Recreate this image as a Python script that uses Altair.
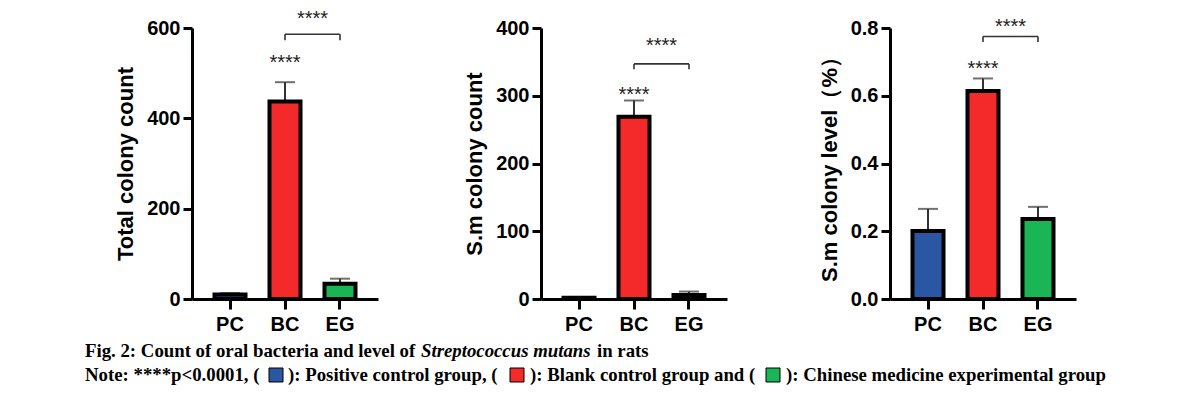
import altair as alt
import pandas as pd

groups = ["PC", "BC", "EG"]
colors = ["#2a56a3", "#f42a2a", "#1ab554"]

total_mean = [10, 437, 34]
total_upper = [13, 480, 45]
sm_mean = [2, 269, 6]
sm_upper = [3, 293, 11]
level_mean = [0.201, 0.614, 0.236]
level_upper = [0.266, 0.651, 0.272]

panel_titles = ["Total colony count", "S.m colony count", "S.m colony level（%）"]
y_domains = [[0, 600], [0, 400], [0, 0.8]]
y_ticks = [[0, 200, 400, 600], [0, 100, 200, 300, 400], [0, 0.2, 0.4, 0.6, 0.8]]
y_formats = ["d", "d", ".1f"]
star_bc_y = [510, 292, 0.662]
star_top_y = [606, 365, 0.785]
bracket_y = [586, 347, 0.775]
bracket_drop_y = [573, 339, 0.759]
sig_label = "****"

caption_line1 = [
    ("Fig. 2: Count of oral bacteria and level of ", "normal"),
    ("Streptococcus mutans", "italic"),
    (" in rats", "normal"),
]
caption_line2 = [
    "Note: ****p<0.0001, (",
    "): Positive control group, (",
    "): Blank control group and (",
    "): Chinese medicine experimental group",
]

FONT = "Liberation Sans"
SERIF = "Liberation Serif"
CAP_SIZE = 18.8
W, H = 186, 271


def x_enc(field="group:N"):
    return alt.X(
        field,
        sort=groups,
        scale=alt.Scale(domain=groups, paddingInner=0.436, paddingOuter=0.409),
        axis=alt.Axis(
            title=None, labelAngle=0, domainWidth=3, domainColor="black",
            tickWidth=3, tickSize=10, tickColor="black", labelFontSize=20,
            labelFont=FONT, labelFontWeight="bold", labelColor="black",
            labelPadding=5, grid=False,
        ),
    )


def y_enc(i, field):
    return alt.Y(
        field,
        title=panel_titles[i],
        scale=alt.Scale(domain=y_domains[i], nice=False, zero=True),
        axis=alt.Axis(
            values=y_ticks[i], format=y_formats[i], domainWidth=3,
            domainColor="black", tickWidth=3, tickSize=9, tickColor="black",
            labelFontSize=20, labelFont=FONT, labelFontWeight="bold",
            labelColor="black", labelPadding=3, titleFontSize=22,
            titleFont=FONT, titleFontWeight="bold", titleColor="black",
            titlePadding=9, grid=False,
        ),
    )


def panel(i, mean, upper, caption=False):
    df = pd.DataFrame({"group": groups, "mean": mean, "upper": upper})
    base = alt.Chart(df)
    err = base.mark_rule(color="#333", strokeWidth=2).encode(
        x=x_enc(), y=y_enc(i, "mean:Q"), y2="upper:Q")
    cap = base.mark_tick(color="#333", thickness=2, size=20).encode(
        x=x_enc(), y=y_enc(i, "upper:Q"))
    bars = base.mark_bar(stroke="black", strokeWidth=4).encode(
        x=x_enc(), y=y_enc(i, "mean:Q"),
        color=alt.Color("group:N", scale=alt.Scale(domain=groups, range=colors), legend=None),
    )
    sig_df = pd.DataFrame({"group": ["BC"], "y": [star_bc_y[i]], "ytop": [star_top_y[i]]})
    star1 = alt.Chart(sig_df).mark_text(
        text=sig_label, fontSize=20, font=FONT, color="#222", baseline="alphabetic"
    ).encode(x=x_enc(), y=y_enc(i, "y:Q"))
    star2 = alt.Chart(sig_df).mark_text(
        text=sig_label, fontSize=20, font=FONT, color="#222", baseline="alphabetic", dx=27.5
    ).encode(x=x_enc(), y=y_enc(i, "ytop:Q"))
    br_df = pd.DataFrame({"x1": ["BC"], "x2": ["EG"], "y": [bracket_y[i]]})
    bracket = alt.Chart(br_df).mark_rule(color="#333", strokeWidth=1.6).encode(
        x=x_enc("x1:N"), x2="x2:N", y=y_enc(i, "y:Q"))
    end_df = pd.DataFrame({"group": ["BC", "EG"], "y": [bracket_y[i]] * 2,
                           "y2": [bracket_drop_y[i]] * 2})
    ends = alt.Chart(end_df).mark_rule(color="#333", strokeWidth=1.6).encode(
        x=x_enc(), y=y_enc(i, "y:Q"), y2="y2:Q")
    layers = [err, cap, bars, star1, star2, bracket, ends]
    if caption:
        cap_df = pd.DataFrame({"k": [0]})
        x1 = [-107, 229, 405]
        for (txt, style), xv in zip(caption_line1, x1):
            layers.append(alt.Chart(cap_df).mark_text(
                text=txt, font=SERIF, fontSize=CAP_SIZE, fontWeight="bold", fontStyle=style,
                align="left", baseline="alphabetic", color="black"
            ).encode(x=alt.value(xv), y=alt.value(329)))
        x2 = [-107, 96, 338, 594]
        for txt, xv in zip(caption_line2, x2):
            layers.append(alt.Chart(cap_df).mark_text(
                text=txt, font=SERIF, fontSize=CAP_SIZE, fontWeight="bold",
                align="left", baseline="alphabetic", color="black"
            ).encode(x=alt.value(xv), y=alt.value(353)))
        sw_x = [77, 318, 574]
        for col, xv in zip(colors, sw_x):
            layers.append(alt.Chart(cap_df).mark_rect(
                color=col, stroke="black", strokeWidth=1
            ).encode(x=alt.value(xv), x2=alt.value(xv + 14),
                     y=alt.value(340), y2=alt.value(354)))
    return alt.layer(*layers).properties(width=W, height=H)


p1 = panel(0, total_mean, total_upper, caption=True)
p2 = panel(1, sm_mean, sm_upper)
p3 = panel(2, level_mean, level_upper)

chart = alt.hconcat(p1, p2, p3, spacing=163, bounds="flush").properties(
    padding={"left": 77, "top": 1, "right": 5, "bottom": 5}
).configure_view(stroke=None)

chart.save("out.html", embed_options={"renderer": "svg", "actions": False})
